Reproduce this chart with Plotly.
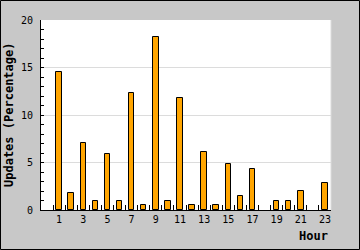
import plotly.graph_objects as go

hours = list(range(24))
updates = [0, 14.5, 1.8, 7.1, 1.0, 5.9, 1.0, 12.3, 0.5, 18.2, 1.0, 11.8,
           0.5, 6.1, 0.5, 4.8, 1.5, 4.3, 0, 1.0, 1.0, 2.0, 0, 2.8]
tick_hours = [1, 3, 5, 7, 9, 11, 13, 15, 17, 19, 21, 23]
tick_labels = [str(h) for h in tick_hours]
y_ticks = [0, 5, 10, 15, 20]

L, R, T, B = 41, 29, 20, 40
W, H = 360, 250
pw, ph = W - L - R, H - T - B

def px_x(p):
    return (p - L) / pw

def px_y(p):
    return (H - B - p) / ph

mono = "DejaVu Sans Mono"

fig = go.Figure()
fig.add_trace(go.Bar(
    x=hours, y=updates, width=0.45,
    marker=dict(color="#FFA500",
                line=dict(color="#000000", width=[1 if v > 0 else 0 for v in updates])),
    hoverinfo="skip",
))

fig.update_layout(
    width=W, height=H,
    margin=dict(l=L, r=R, t=T, b=B, pad=0),
    paper_bgcolor="#c8c8c8",
    plot_bgcolor="#ffffff",
    showlegend=False,
    font=dict(family=mono, size=10, color="#000000"),
    bargap=0,
)
fig.update_xaxes(
    range=[-0.5, 23.5],
    tickmode="array", tickvals=tick_hours, ticktext=tick_labels,
    ticks="inside", ticklen=0,
    minor=dict(tickmode="array", tickvals=[h + 0.5 for h in hours[:-1]],
               ticks="inside", ticklen=5, tickcolor="#000000", showgrid=False),
    showline=True, linecolor="#000000", linewidth=1,
    showgrid=False, zeroline=False, fixedrange=True,
    tickfont=dict(family=mono, size=10),
)
fig.update_yaxes(
    range=[0, 20],
    tickmode="array", tickvals=y_ticks,
    ticks="inside", ticklen=3, tickcolor="#000000",
    minor=dict(dtick=1, ticks="inside", ticklen=3, tickcolor="#000000", showgrid=False),
    showline=True, linecolor="#000000", linewidth=1,
    showgrid=True, gridcolor="#dcdcdc", gridwidth=1,
    zeroline=False, fixedrange=True,
    tickfont=dict(family=mono, size=10),
    ticklabelstandoff=5,
)

fig.add_shape(type="line", xref="paper", yref="paper", x0=1, x1=1, y0=0, y1=1,
              line=dict(color="#dcdcdc", width=1), layer="below")
fig.add_shape(type="rect", xref="paper", yref="paper",
              x0=px_x(0.5), x1=px_x(W - 0.5), y0=px_y(H - 0.5), y1=px_y(0.5),
              line=dict(color="#000000", width=1), fillcolor="rgba(0,0,0,0)")

fig.add_annotation(text="<b>Updates (Percentage)</b>", textangle=-90,
                   xref="paper", yref="paper", x=px_x(9), y=0.5,
                   xanchor="center", yanchor="middle", showarrow=False,
                   font=dict(family=mono, size=12, color="#000000"))
fig.add_annotation(text="<b>Hour</b>",
                   xref="paper", yref="paper", x=px_x(329.5), y=px_y(235.7),
                   xanchor="right", yanchor="middle", showarrow=False,
                   font=dict(family=mono, size=12, color="#000000"))

fig.write_html("out.html", config=dict(displayModeBar=False))
